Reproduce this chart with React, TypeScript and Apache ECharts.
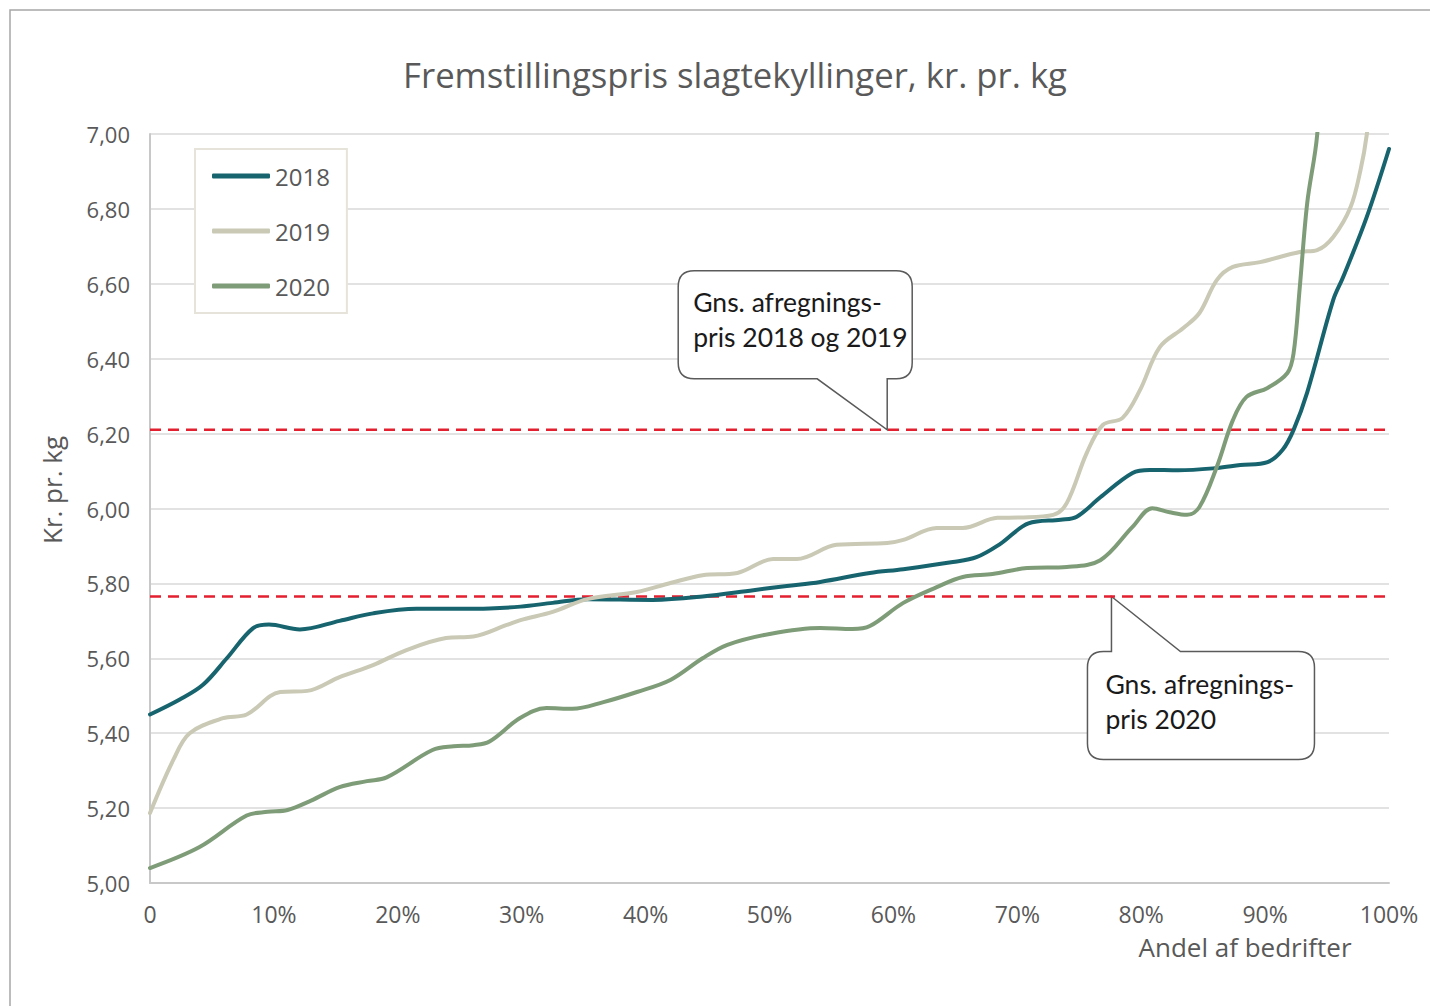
import React, { useEffect, useRef } from "react";
import * as echarts from "echarts";

const chartTitle = "Fremstillingspris slagtekyllinger, kr. pr. kg";
const yAxisTitle = "Kr. pr. kg";
const xAxisTitle = "Andel af bedrifter";
const seriesNames = ["2018", "2019", "2020"];
const seriesColors = ["#17646f", "#c9c9b5", "#7f9c78"];

// [andel af bedrifter (%), kr. pr. kg]
const data2018: [number, number][] = [
  [0, 5.45], [2.4, 5.49], [4.3, 5.53], [6.2, 5.6], [8.3, 5.68], [9.6, 5.69],
  [12.1, 5.677], [15.3, 5.7], [18, 5.72], [21.5, 5.732], [24.8, 5.732], [27.4, 5.733],
  [29.9, 5.738], [32.5, 5.748], [35.3, 5.758], [40.6, 5.756], [44.6, 5.765], [48.7, 5.782],
  [51.4, 5.793], [54.1, 5.804], [58.1, 5.828], [60.8, 5.838], [64.8, 5.857], [66.7, 5.87],
  [68.6, 5.905], [70.9, 5.96], [73.5, 5.97], [74.8, 5.978], [76.7, 6.03], [79.3, 6.095],
  [80.7, 6.103], [83, 6.102], [86.1, 6.108], [88, 6.116], [90.2, 6.124], [91.4, 6.156],
  [92.3, 6.21], [93.4, 6.31], [95.5, 6.557], [96.3, 6.618], [98.2, 6.778], [100, 6.96],
];
const data2019: [number, number][] = [
  [0, 5.187], [1.9, 5.33], [3.2, 5.4], [5.9, 5.44], [7.8, 5.45], [10.5, 5.51],
  [12.7, 5.513], [15.3, 5.55], [18, 5.582], [20.7, 5.622], [23.9, 5.654], [26.1, 5.658],
  [28.8, 5.689], [29.9, 5.702], [32.5, 5.724], [35.3, 5.758], [39.3, 5.777], [42, 5.801],
  [44.6, 5.822], [47.4, 5.828], [50.3, 5.865], [52.2, 5.865], [55.4, 5.903], [59.5, 5.908],
  [60.8, 5.916], [63.5, 5.948], [65.6, 5.948], [68.4, 5.975], [70.2, 5.976], [72.9, 5.983],
  [74, 6.015], [75.6, 6.148], [76.9, 6.223], [78.5, 6.242], [79.9, 6.316], [81.5, 6.431],
  [83.4, 6.482], [84.7, 6.522], [86.1, 6.61], [87.4, 6.645], [89.6, 6.658], [92.8, 6.685],
  [94.2, 6.69], [95.5, 6.725], [96.9, 6.805], [97.7, 6.904], [98.2, 6.997], [100, 7.5],
];
const data2020: [number, number][] = [
  [0, 5.04], [4, 5.096], [7.8, 5.18], [9.5, 5.19], [11.1, 5.195], [13, 5.22],
  [15.3, 5.256], [17.5, 5.272], [19.1, 5.282], [22.8, 5.355], [24.5, 5.365], [26.1, 5.368],
  [27.4, 5.378], [29.9, 5.441], [32, 5.467], [34.1, 5.465], [36.6, 5.483], [39.3, 5.51],
  [42, 5.542], [44.6, 5.6], [46.6, 5.636], [50, 5.665], [54.1, 5.681], [56.7, 5.678],
  [58.1, 5.686], [60.8, 5.748], [63.5, 5.79], [65.6, 5.817], [68, 5.825], [70.8, 5.841],
  [74, 5.844], [76.7, 5.862], [79.3, 5.951], [80.9, 6.001], [82.3, 5.99], [83.7, 5.983],
  [84.7, 6.004], [86.1, 6.111], [87.4, 6.236], [88.5, 6.298], [90.2, 6.322], [91.8, 6.362],
  [92.3, 6.415], [92.8, 6.591], [93.4, 6.816], [94.2, 6.997], [96, 7.8], [100, 8.5],
];

const avgPrice1819 = 6.21;
const avgPrice2020 = 5.765;
const callout1Text = "Gns. afregnings-\npris 2018 og 2019";
const callout2Text = "Gns. afregnings-\npris 2020";
const callout1Anchor: [number, number] = [59.5, avgPrice1819];
const callout2Anchor: [number, number] = [77.6, avgPrice2020];

const yMin = 5;
const yMax = 7;
const yStep = 0.2;
const xMin = 0;
const xMax = 100;
const xStep = 10;

const R = 16;
const callout1Path =
  `M ${-209 + R} -159 H ${25 - R} Q 25 -159 25 ${-159 + R} V ${-51 - R} Q 25 -51 ${25 - R} -51 ` +
  `H 0 L 0 0 L -70 -51 H ${-209 + R} Q -209 -51 -209 ${-51 - R} V ${-159 + R} Q -209 -159 ${-209 + R} -159 Z`;
const callout2Path =
  `M ${-24 + R} 55 H 0 L 0 0 L 69 55 H ${203 - R} Q 203 55 203 ${55 + R} V ${163 - R} Q 203 163 ${203 - R} 163 ` +
  `H ${-24 + R} Q -24 163 -24 ${163 - R} V ${55 + R} Q -24 55 ${-24 + R} 55 Z`;

echarts.graphic.registerShape("callout1", echarts.graphic.extendPath(callout1Path, {}));
echarts.graphic.registerShape("callout2", echarts.graphic.extendPath(callout2Path, {}));

const labelFont = "'Open Sans', sans-serif";
const calloutFont = "Lato, sans-serif";

export default function App() {
  const ref = useRef<HTMLDivElement>(null);
  useEffect(() => {
    document.body.style.margin = "0";
    if (!ref.current) return;
    const chart = echarts.init(ref.current, undefined, { renderer: "svg" });
    const lineSeries = [data2018, data2019, data2020].map((d, i) => ({
      name: seriesNames[i],
      type: "line",
      data: d,
      smooth: 0.35,
      symbol: "none",
      showSymbol: false,
      clip: true,
      lineStyle: { width: 4, color: seriesColors[i], cap: "round" },
      itemStyle: { color: seriesColors[i] },
      z: 3 + i,
    }));
    const dashSeries = [avgPrice1819, avgPrice2020].map((v, i) => ({
      name: "avg" + i,
      type: "line",
      data: [[xMin, v], [xMax, v]],
      symbol: "none",
      silent: true,
      lineStyle: { width: 2.5, color: "#e3202f", type: [11, 7] },
      z: 2,
    }));
    chart.setOption({
      animation: false,
      backgroundColor: "#ffffff",
      title: {
        text: chartTitle,
        left: 730,
        top: 52,
        textAlign: "center",
        textStyle: { fontFamily: labelFont, fontSize: 34.7, fontWeight: "normal", color: "#595959" },
      },
      legend: {
        data: seriesNames,
        orient: "vertical",
        left: 195,
        top: 149,
        padding: [12, 17, 12, 17],
        itemGap: 25,
        itemWidth: 58,
        itemHeight: 5,
        icon: "roundRect",
        backgroundColor: "#ffffff",
        borderColor: "#e6e4da",
        borderWidth: 2,
        borderRadius: 0,
        textStyle: { fontFamily: labelFont, fontSize: 24, color: "#595959", lineHeight: 30 },
      },
      grid: { left: 150, right: 41, top: 134, bottom: 123, containLabel: false },
      xAxis: {
        type: "value",
        min: xMin,
        max: xMax,
        interval: xStep,
        axisLine: { show: true, lineStyle: { color: "#c8c8c8", width: 2 } },
        axisTick: { show: false },
        splitLine: { show: false },
        axisLabel: {
          margin: 19,
          fontFamily: labelFont,
          fontSize: 23,
          color: "#595959",
          formatter: (v: number) => (v === 0 ? "0" : `${v}%`),
        },
      },
      yAxis: {
        type: "value",
        min: yMin,
        max: yMax,
        interval: yStep,
        axisLine: { show: true, lineStyle: { color: "#c8c8c8", width: 2 } },
        axisTick: { show: false },
        splitLine: { show: true, lineStyle: { color: "#d9d9d9", width: 1.5 } },
        axisLabel: {
          margin: 20,
          fontFamily: labelFont,
          fontSize: 22,
          color: "#595959",
          formatter: (v: number) => v.toFixed(2).replace(".", ","),
        },
      },
      series: [...dashSeries, ...lineSeries],
    });

    const p1 = chart.convertToPixel({ gridIndex: 0 }, callout1Anchor) as number[];
    const p2 = chart.convertToPixel({ gridIndex: 0 }, callout2Anchor) as number[];
    const calloutTextStyle = {
      font: `26.5px ${calloutFont}`,
      fill: "#1a1a1a",
      lineHeight: 35,
      verticalAlign: "top",
      align: "left",
    };
    chart.setOption({
      graphic: {
        elements: [
          {
            type: "rect",
            silent: true,
            shape: { x: 10, y: 10, width: 1440, height: 1020 },
            style: { fill: "none", stroke: "#a6a6a6", lineWidth: 1.5 },
            z: 0,
          },
          {
            type: "text",
            x: 52,
            y: 490,
            rotation: Math.PI / 2,
            style: {
              text: yAxisTitle,
              font: `26px ${labelFont}`,
              fill: "#595959",
              align: "center",
              verticalAlign: "middle",
            },
          },
          {
            type: "text",
            x: 1245,
            y: 947,
            style: {
              text: xAxisTitle,
              font: `26px ${labelFont}`,
              fill: "#595959",
              align: "center",
              verticalAlign: "middle",
            },
          },
          {
            type: "group",
            x: p1[0],
            y: p1[1],
            z: 10,
            children: [
              { type: "callout1", style: { fill: "#ffffff", stroke: "#5a5a5a", lineWidth: 1.5 } },
              { type: "text", x: -194, y: -145, style: { ...calloutTextStyle, text: callout1Text } },
            ],
          },
          {
            type: "group",
            x: p2[0],
            y: p2[1],
            z: 10,
            children: [
              { type: "callout2", style: { fill: "#ffffff", stroke: "#5a5a5a", lineWidth: 1.5 } },
              { type: "text", x: -6, y: 70, style: { ...calloutTextStyle, text: callout2Text } },
            ],
          },
        ],
      },
    });

    return () => chart.dispose();
  }, []);
  return <div ref={ref} style={{ width: 1430, height: 1006 }} />;
}
